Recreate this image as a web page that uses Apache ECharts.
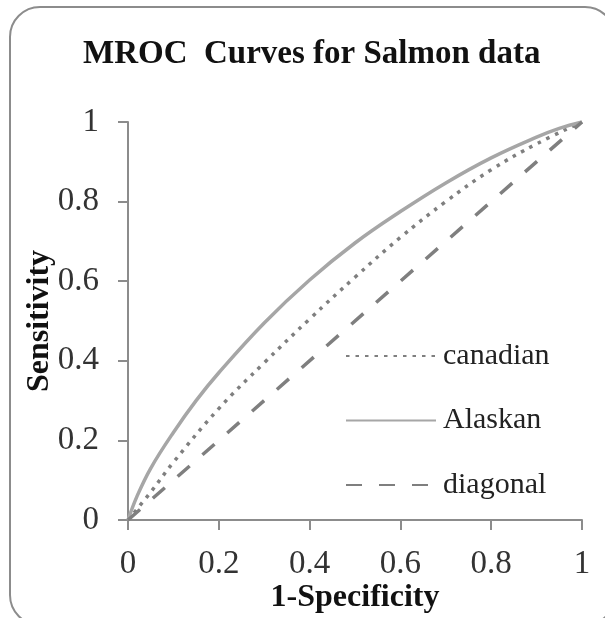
<!DOCTYPE html>
<html>
<head>
<meta charset="utf-8">
<script src="https://cdn.jsdelivr.net/npm/echarts@6/dist/echarts.min.js"></script>
<style>
html,body{margin:0;padding:0;background:#fff;}
#chart{width:605px;height:618px;}
</style>
</head>
<body>
<div id="chart"></div>
<script>
// Data
var titleText = 'MROC  Curves for Salmon data';
var xAxisName = '1-Specificity';
var yAxisName = 'Sensitivity';
var tickValues = [0, 0.2, 0.4, 0.6, 0.8, 1];

var canadianX = [0, 0.05, 0.1, 0.2, 0.3, 0.4, 0.5, 0.6, 0.7, 0.8, 0.9, 1];
var canadianY = [0, 0.07, 0.145, 0.28, 0.395, 0.505, 0.61, 0.71, 0.80, 0.88, 0.945, 1];

var alaskanX = [0, 0.02, 0.05, 0.1, 0.15, 0.2, 0.3, 0.4, 0.5, 0.6, 0.7, 0.8, 0.9, 0.95, 1];
var alaskanY = [0, 0.06, 0.13, 0.22, 0.30, 0.37, 0.495, 0.603, 0.696, 0.775, 0.847, 0.91, 0.962, 0.984, 1];

var diagonalX = [0, 1];
var diagonalY = [0, 1];

function pairs(xs, ys) { return xs.map(function (x, i) { return [x, ys[i]]; }); }

var serif = '"Liberation Serif", "Times New Roman", serif';
var chart = echarts.init(document.getElementById('chart'), null, {renderer: 'canvas'});
chart.setOption({
  animation: false,
  backgroundColor: '#ffffff',
  title: {
    text: titleText,
    left: 78,
    top: 33,
    textStyle: {fontFamily: serif, fontSize: 33, fontWeight: 'bold', color: '#111'}
  },
  grid: {left: 128, right: 23, top: 122, bottom: 98, containLabel: false, outerBoundsMode: 'none'},
  legend: {
    orient: 'vertical',
    left: 340,
    top: 336,
    itemWidth: 90,
    itemHeight: 14,
    itemGap: 34.5,
    itemStyle: {opacity: 0},
    textStyle: {fontFamily: serif, fontSize: 30, color: '#222', lineHeight: 30, padding: [0, 0, 0, 2]},
    data: ['canadian', 'Alaskan', 'diagonal']
  },
  xAxis: {
    type: 'value', min: 0, max: 1, interval: 0.2,
    name: xAxisName, nameLocation: 'middle', nameGap: 62, nameMoveOverlap: false,
    nameTextStyle: {fontFamily: serif, fontSize: 32, fontWeight: 'bold', color: '#111'},
    axisLine: {lineStyle: {color: '#8c8c8c', width: 2}},
    axisTick: {show: true, length: 10, lineStyle: {color: '#8c8c8c', width: 2}},
    axisLabel: {fontFamily: serif, fontSize: 33, color: '#333', margin: 28,
      formatter: function (v) { return tickValues.indexOf(+v.toFixed(1)) >= 0 ? String(+v.toFixed(1)) : ''; }},
    splitLine: {show: false}
  },
  yAxis: {
    type: 'value', min: 0, max: 1, interval: 0.2,
    name: yAxisName, nameLocation: 'middle', nameGap: 72, nameRotate: 90, nameMoveOverlap: false,
    nameTextStyle: {fontFamily: serif, fontSize: 32, fontWeight: 'bold', color: '#111'},
    axisLine: {lineStyle: {color: '#8c8c8c', width: 2}},
    axisTick: {show: true, length: 10, lineStyle: {color: '#8c8c8c', width: 2}},
    axisLabel: {fontFamily: serif, fontSize: 33, color: '#333', margin: 29,
      formatter: function (v) { return String(+v.toFixed(1)); }},
    splitLine: {show: false}
  },
  series: [
    {name: 'canadian', type: 'line', data: pairs(canadianX, canadianY), smooth: 0.4,
      showSymbol: false, symbol: 'none',
      lineStyle: {color: '#7f7f7f', width: 3.5, type: [3.5, 6]}, itemStyle: {color: '#7f7f7f'}},
    {name: 'Alaskan', type: 'line', data: pairs(alaskanX, alaskanY), smooth: 0.4,
      showSymbol: false, symbol: 'none',
      lineStyle: {color: '#a6a6a6', width: 3.5}, itemStyle: {color: '#a6a6a6'}},
    {name: 'diagonal', type: 'line', data: pairs(diagonalX, diagonalY),
      showSymbol: false, symbol: 'none',
      lineStyle: {color: '#7f7f7f', width: 3.5, type: [16, 17]}, itemStyle: {color: '#7f7f7f'}}
  ],
  graphic: [{
    type: 'rect', silent: true, z: -1,
    shape: {x: 10, y: 7, width: 605, height: 618, r: 30},
    style: {fill: null, stroke: '#8c8c8c', lineWidth: 2}
  }]
});
</script>
</body>
</html>
